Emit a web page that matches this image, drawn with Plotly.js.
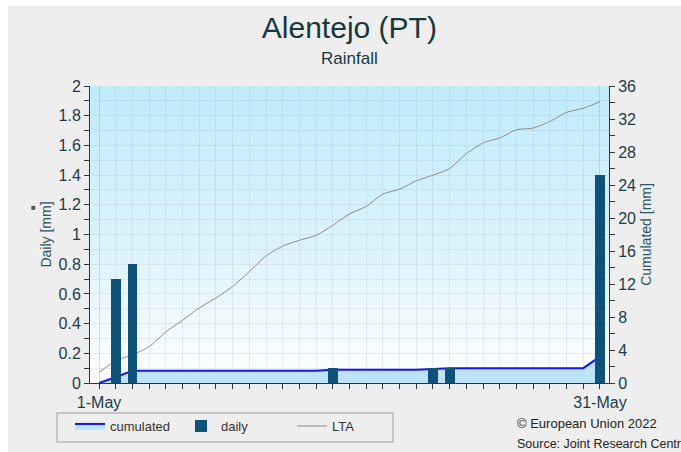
<!DOCTYPE html>
<html>
<head>
<meta charset="utf-8">
<script src="https://cdn.plot.ly/plotly-3.0.1.min.js"></script>
<style>html,body{margin:0;padding:0;background:#fff;}#chart{width:681px;height:452px;}</style>
</head>
<body>
<div id="chart"></div>
<script>
// ---- data ----
const days = ['2022-05-01','2022-05-02','2022-05-03','2022-05-04','2022-05-05','2022-05-06','2022-05-07','2022-05-08',
  '2022-05-09','2022-05-10','2022-05-11','2022-05-12','2022-05-13','2022-05-14','2022-05-15','2022-05-16',
  '2022-05-17','2022-05-18','2022-05-19','2022-05-20','2022-05-21','2022-05-22','2022-05-23','2022-05-24',
  '2022-05-25','2022-05-26','2022-05-27','2022-05-28','2022-05-29','2022-05-30','2022-05-31'];
const daily = [0,0.7,0.8,0,0,0,0,0,0,0,0,0,0,0,0.1,0,0,0,0,0,0.1,0.1,0,0,0,0,0,0,0,0,1.4];
const cumulated = [0,0.7,1.5,1.5,1.5,1.5,1.5,1.5,1.5,1.5,1.5,1.5,1.5,1.5,1.6,1.6,1.6,1.6,1.6,1.6,1.7,1.8,1.8,1.8,1.8,1.8,1.8,1.8,1.8,1.8,3.2];
const lta = [1.3,2.7,3.4,4.4,6.2,7.6,9.1,10.3,11.7,13.5,15.4,16.6,17.3,17.9,19.1,20.5,21.4,22.9,23.5,24.5,25.2,26.0,27.8,29.1,29.7,30.7,30.9,31.7,32.8,33.3,34.1];
const xTickVals = ['2022-05-01','2022-05-31'];
const xTickText = ['1-May','31-May'];

const gridCol = 'rgba(140,150,160,0.16)';
const tickFont = {family:'Liberation Sans, Arial, sans-serif', size:16, color:'#1d3c48'};
const axTitleFont = {family:'Liberation Sans, Arial, sans-serif', size:14, color:'#2c5566'};

const svg = "<svg xmlns='http://www.w3.org/2000/svg' width='10' height='100' viewBox='0 0 10 100' preserveAspectRatio='none'>" +
  "<defs><linearGradient id='g' x1='0' y1='0' x2='0' y2='1'><stop offset='0' stop-color='#bfebfb'/><stop offset='0.55' stop-color='#dcf3fc'/><stop offset='1' stop-color='#ffffff'/></linearGradient></defs>" +
  "<rect x='0' y='0' width='10' height='100' fill='url(#g)'/></svg>";
const bgImg = 'data:image/svg+xml;charset=utf-8,' + encodeURIComponent(svg);

const px = v => (v - 90) / 519;   // pixel x -> paper x
const py = v => (383 - v) / 297;  // pixel y -> paper y

const traces = [
  {x: days, y: cumulated, name: 'cumulated', type: 'scatter', mode: 'lines', yaxis: 'y',
   fill: 'tozeroy', fillcolor: '#bde3fb', line: {color: '#1414ee', width: 2}},
  {x: days, y: daily, name: 'daily', type: 'bar', yaxis: 'y2', width: 50112000,
   marker: {color: '#0e5179', line: {width: 0}}},
  {x: days, y: lta, name: 'LTA', type: 'scatter', mode: 'lines', yaxis: 'y',
   line: {color: '#8a8a8a', width: 1, shape: 'spline', smoothing: 0.6}}
];

const layout = {
  width: 681, height: 452,
  margin: {l: 90, r: 72, t: 86, b: 69, autoexpand: false},
  paper_bgcolor: '#eeeeee',
  plot_bgcolor: 'rgba(0,0,0,0)',
  showlegend: true,
  bargap: 0,
  title: {text: 'Alentejo (PT)', x: 0.513, xanchor: 'center', y: 0.94, yanchor: 'middle', yref: 'container',
          font: {family: 'Liberation Sans, Arial, sans-serif', size: 30, color: '#17383f'}},
  xaxis: {type: 'date', range: ['2022-04-30 11:00', '2022-05-31 13:00'], automargin: false,
          tickvals: xTickVals, ticktext: xTickText, ticks: 'outside', ticklen: 5, tickcolor: '#333',
          showline: true, linecolor: '#333', linewidth: 1, showgrid: true, gridcolor: gridCol,
          tickfont: tickFont, zeroline: false,
          minor: {dtick: 86400000, tick0: '2022-05-01', ticks: 'outside', ticklen: 5, tickcolor: '#333', showgrid: true, gridcolor: gridCol}},
  yaxis: {side: 'right', range: [0, 36], dtick: 4, ticks: 'outside', ticklen: 5, tickcolor: '#333', automargin: false,
          showline: true, linecolor: '#333', linewidth: 1, showgrid: false, zeroline: false,
          tickfont: tickFont, title: {text: 'Cumulated [mm]', font: axTitleFont, standoff: 6},
          minor: {dtick: 2, ticks: 'outside', ticklen: 5, tickcolor: '#333', showgrid: false}},
  yaxis2: {side: 'left', overlaying: 'y', range: [0, 2], dtick: 0.2, ticks: 'outside', ticklen: 5, tickcolor: '#333', automargin: false,
          showline: true, linecolor: '#333', linewidth: 1, showgrid: true, gridcolor: gridCol, zeroline: false,
          tickfont: tickFont, title: {text: 'Daily [mm]', font: axTitleFont, standoff: 3},
          minor: {dtick: 0.1, ticks: 'outside', ticklen: 5, tickcolor: '#333', showgrid: true, gridcolor: gridCol}},
  legend: {orientation: 'h', x: px(70), xanchor: 'left', y: py(411), yanchor: 'top',
           bgcolor: 'rgba(0,0,0,0)', borderwidth: 0,
           font: {family: 'Liberation Sans, Arial, sans-serif', size: 13, color: '#333'},
           itemwidth: 30, entrywidth: 66, traceorder: 'normal'},
  images: [{source: bgImg, xref: 'paper', yref: 'paper', x: 0, y: 1, sizex: 1, sizey: 1,
            sizing: 'stretch', xanchor: 'left', yanchor: 'top', layer: 'below'}],
  shapes: [
    {type: 'rect', xref: 'paper', yref: 'paper', x0: -0.18, x1: px(8), y0: -0.3, y1: 1.35, fillcolor: '#ffffff', line: {width: 0}, layer: 'below'},
    {type: 'rect', xref: 'paper', yref: 'paper', x0: -0.18, x1: 1.2, y0: py(6), y1: 1.35, fillcolor: '#ffffff', line: {width: 0}, layer: 'below'},
    {type: 'rect', xref: 'paper', yref: 'paper', x0: px(57), x1: px(393), y0: py(442), y1: py(413), fillcolor: 'rgba(0,0,0,0)', line: {color: '#b8b8b8', width: 1.5}, layer: 'above'}
  ],
  annotations: [
    {text: 'Rainfall', xref: 'paper', yref: 'paper', x: 0.5, y: py(58), xanchor: 'center', yanchor: 'middle', showarrow: false,
     font: {family: 'Liberation Sans, Arial, sans-serif', size: 17, color: '#17383f'}},
    {text: '■', xref: 'paper', yref: 'paper', x: px(33), y: py(206), xanchor: 'center', yanchor: 'middle', showarrow: false,
     font: {size: 8, color: '#555'}},
    {text: '© European Union 2022', xref: 'paper', yref: 'paper', x: px(515), y: py(423), xanchor: 'left', yanchor: 'middle', showarrow: false,
     font: {family: 'Liberation Sans, Arial, sans-serif', size: 13, color: '#222'}},
    {text: 'Source: Joint Research Centre', xref: 'paper', yref: 'paper', x: px(515), y: py(444), xanchor: 'left', yanchor: 'middle', showarrow: false,
     font: {family: 'Liberation Sans, Arial, sans-serif', size: 12.5, color: '#222'}}
  ]
};

Plotly.newPlot('chart', traces, layout, {displayModeBar: false, staticPlot: true});
</script>
</body>
</html>
